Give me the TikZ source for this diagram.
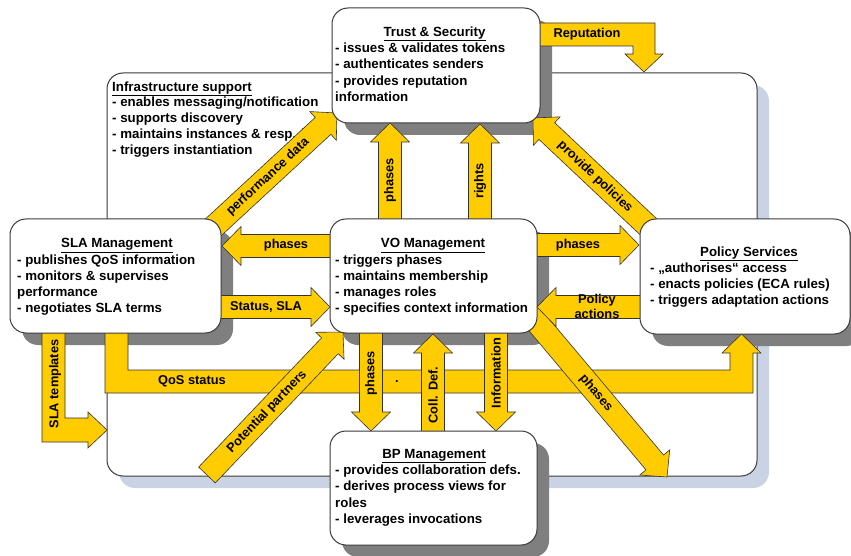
\documentclass[tikz,border=0pt]{standalone}
\usepackage{fontspec}
\setmainfont{Liberation Sans}
\usetikzlibrary{calc}
\definecolor{ayel}{HTML}{FFCC00}
\definecolor{shgray}{HTML}{7F7F7F}
\definecolor{shblue}{HTML}{C9D3E3}
\definecolor{bord}{HTML}{3A3A3A}
\tikzset{
 boxph/.style={inner sep=0pt, outer sep=0pt, draw=none},
 boxline/.style={draw=bord, line width=1pt, fill=white, rounded corners=16pt},
 shad/.style={fill=shgray, rounded corners=16pt},
 yarr/.style={fill=ayel, draw=black!80, line width=0.6pt, line join=miter},
 txt/.style={font=\fontsize{13.3}{16}\selectfont\bfseries, inner sep=0pt, anchor=base west},
 ttl/.style={font=\fontsize{13.3}{16}\selectfont\bfseries, inner sep=0pt, anchor=base},
 lbl/.style={font=\fontsize{12.8}{15}\selectfont\bfseries, inner sep=0pt},
}
\newcommand\mkbox[5]{\node[boxph, minimum width=#4pt, minimum height=#5pt, anchor=north west] (#1) at (#2,#3) {};}
\newcommand\shbox[1]{\fill[shad] ($(#1.north west)+(12,12)$) rectangle ($(#1.south east)+(12,12)$);}
\newcommand\drbox[1]{\draw[boxline] (#1.north west) rectangle (#1.south east);}
\newcommand\blockarr[2]{%
 \coordinate (hb) at ($(#2)!19pt!(#1)$);
 \draw[yarr] ($(#1)!11.5pt!90:(#2)$) -- ($(hb)!11.5pt!90:(#2)$) -- ($(hb)!19.5pt!90:(#2)$) -- (#2) -- ($(hb)!19.5pt!-90:(#2)$) -- ($(hb)!11.5pt!-90:(#2)$) -- ($(#1)!11.5pt!-90:(#2)$) -- cycle;}
\begin{document}
\begin{tikzpicture}[x=1pt,y=-1pt]
\useasboundingbox (0,0) rectangle (851,556);
% placeholders
\mkbox{infra}{107}{73}{650}{403}
\mkbox{trust}{332}{8}{208}{115}
\mkbox{sla}{10}{219}{211}{114}
\mkbox{vo}{330}{219}{207}{114}
\mkbox{pol}{640}{219}{210}{115}
\mkbox{bp}{330}{431}{207}{114}
% infrastructure box
\fill[shblue, rounded corners=16pt] ($(infra.north west)+(12,12)$) rectangle ($(infra.south east)+(12,12)$);
\drbox{infra}
\node[txt] (infraT) at (112,91.5) {\underline{Infrastructure support}};
\foreach \t [count=\i from 0] in {- enables messaging/notification, - supports discovery, - maintains instances \& resp. i, - triggers instantiation}
  \node[txt] (infra-\i) at (112,{106.5+16*\i}) {\t};
% shadows
\shbox{trust}\shbox{sla}\shbox{vo}\shbox{pol}\shbox{bp}
% QoS status
\draw[yarr] (105,328) -- (105,393) -- (753,393) -- (753,353) -- (761,353) -- (741.5,334) -- (722,353) -- (730,353) -- (730,370) -- (128,370) -- (128,328) -- cycle;
\node[lbl] (qosL) at (192,381) {QoS status};
\node[lbl] (dotL) at (397,382) {.};
% SLA templates
\draw[yarr] (42,328) -- (42,442) -- (88,442) -- (88,448) -- (107,430) -- (88,412) -- (88,418) -- (65,418) -- (65,328) -- cycle;
\node[lbl, rotate=90] (sltL) at (55,384) {SLA templates};
% Reputation
\draw[yarr] (536,23) -- (655,23) -- (655,54) -- (663,54) -- (644,72) -- (625,54) -- (633,54) -- (633,46) -- (536,46) -- cycle;
\node[lbl] (repL) at (587,34) {Reputation};
% arrow end points
\coordinate (pdA) at (205,235); \coordinate (pdB) at (337,113);
\coordinate (puA) at (390,228); \coordinate (puB) at (390,123);
\coordinate (rtA) at (480,228); \coordinate (rtB) at (480,124);
\coordinate (ppA) at (655,233); \coordinate (ppB) at (533,118);
\coordinate (plA) at (336,246); \coordinate (plB) at (222,246);
\coordinate (ssA) at (215,307); \coordinate (ssB) at (330,307);
\coordinate (prA) at (531,245); \coordinate (prB) at (639,245);
\coordinate (paA) at (646,307); \coordinate (paB) at (537,307);
\coordinate (ptA) at (207,475); \coordinate (ptB) at (343,332);
\coordinate (pdnA) at (371,325); \coordinate (pdnB) at (371,431);
\coordinate (cdA) at (433,440); \coordinate (cdB) at (433,334);
\coordinate (inA) at (496,325); \coordinate (inB) at (496,431);
\coordinate (pgA) at (528.5,312.3); \coordinate (pgB) at (667,477);
% arrows
\blockarr{pdA}{pdB}
\node[lbl, rotate=42.7] (pdL) at (268,177) {performance data};
\blockarr{puA}{puB}
\node[lbl, rotate=90] (puL) at (390,180) {phases};
\blockarr{rtA}{rtB}
\node[lbl, rotate=90] (rtL) at (480,181) {rights};
\blockarr{ppA}{ppB}
\node[lbl, rotate=-43.3] (ppL) at (595,177) {provide policies};
\blockarr{plA}{plB}
\node[lbl] (plL) at (286,245) {phases};
\blockarr{ssA}{ssB}
\node[lbl] (ssL) at (266,307) {Status, SLA};
\blockarr{prA}{prB}
\node[lbl] (prL) at (578,245) {phases};
\blockarr{pgA}{pgB}
\node[lbl, rotate=-50] (pgL) at (596,393) {phases};
\blockarr{paA}{paB}
\node[lbl, align=center] (paL) at (597,306) {Policy\\actions};
\blockarr{ptA}{ptB}
\node[lbl, rotate=46.4] (ptL) at (267,412) {Potential partners};
\blockarr{pdnA}{pdnB}
\node[lbl, rotate=90] (pdnL) at (371,373) {phases};
\blockarr{cdA}{cdB}
\node[lbl, rotate=90] (cdL) at (433,395) {Coll. Def.};
\blockarr{inA}{inB}
\node[lbl, rotate=90] (inL) at (496,373) {Information};
% boxes
\drbox{trust}\drbox{sla}\drbox{vo}\drbox{pol}\drbox{bp}
% texts
\node[ttl] (trustT) at (434.5,36.5) {\underline{Trust \& Security}};
\foreach \t [count=\i from 0] in {- issues \& validates tokens, - authenticates senders, - provides reputation, information}
  \node[txt] (trust-\i) at (335,{52.5+16.3*\i}) {\t};
\node[ttl] (slaT) at (117,247.5) {\underline{SLA Management}};
\foreach \t [count=\i from 0] in {- publishes QoS information, - monitors \& supervises, performance, - negotiates SLA terms}
  \node[txt] (sla-\i) at (17,{264+16.3*\i}) {\t};
\node[ttl] (voT) at (433,247.5) {\underline{VO Management}};
\foreach \t [count=\i from 0] in {- triggers phases, - maintains membership, - manages roles, - specifies context information}
  \node[txt] (vo-\i) at (335,{264+16.3*\i}) {\t};
\node[ttl] (polT) at (749,256.5) {\underline{Policy Services}};
\foreach \t [count=\i from 0] in {- „authorises“ access, - enacts policies (ECA rules), - triggers adaptation actions}
  \node[txt] (pol-\i) at (650,{272.5+16*\i}) {\t};
\node[ttl] (bpT) at (434,458) {\underline{BP Management}};
\foreach \t [count=\i from 0] in {- provides collaboration defs., - derives process views for, roles, - leverages invocations}
  \node[txt] (bp-\i) at (335,{474.5+16.3*\i}) {\t};
\end{tikzpicture}
\end{document}
